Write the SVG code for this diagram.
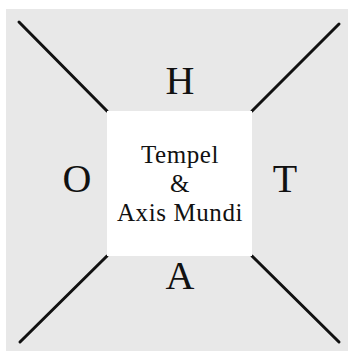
<svg xmlns="http://www.w3.org/2000/svg" width="348" height="351" viewBox="0 0 348 351">
<style>
.big{font-family:"Liberation Serif","DejaVu Serif",serif;font-size:40px;fill:#111;text-anchor:middle}
.mid{font-family:"Liberation Serif","DejaVu Serif",serif;font-size:25px;fill:#111;text-anchor:middle;letter-spacing:0.6px}
.ln{stroke:#111;stroke-width:3;stroke-linecap:round}
</style>
<rect x="0" y="0" width="348" height="351" fill="#fff"/>
<rect x="6" y="9" width="342" height="342" fill="#e8e8e8"/>
<g id="connectors">
<line class="ln" x1="19" y1="22" x2="107" y2="111"/>
<line class="ln" x1="339" y1="24" x2="252" y2="111"/>
<line class="ln" x1="20" y1="342" x2="107" y2="256"/>
<line class="ln" x1="339" y1="342" x2="252" y2="256"/>
</g>
<g id="center">
<rect x="107" y="111" width="145" height="145" fill="#fff"/>
<text class="mid" x="180" y="163">Tempel</text>
<text class="mid" x="180" y="192">&amp;</text>
<text class="mid" x="180" y="221">Axis Mundi</text>
</g>
<g id="H"><text class="big" x="180" y="94">H</text></g>
<g id="O"><text class="big" x="77" y="192">O</text></g>
<g id="T"><text class="big" x="285" y="192">T</text></g>
<g id="A"><text class="big" x="180" y="289">A</text></g>
</svg>
